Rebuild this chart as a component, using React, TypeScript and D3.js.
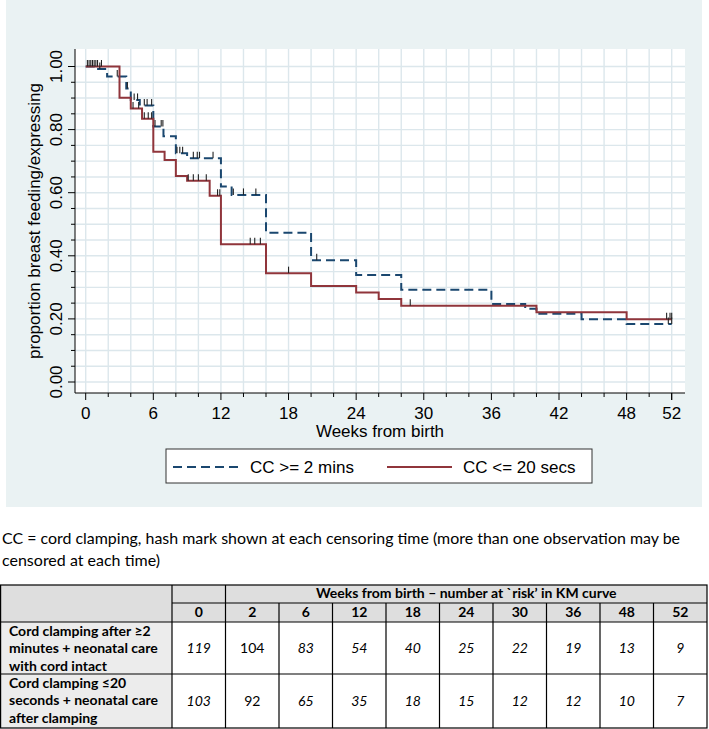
import * as d3 from 'd3'

const W = 709
const H = 729
const panel = { left: 6, right: 702, top: 0, bottom: 507 }
const plot = { left: 75, right: 685, top: 49, bottom: 393 }

const xTicks = [0, 6, 12, 18, 24, 30, 36, 42, 48, 52]
const yTicks = [0, 0.2, 0.4, 0.6, 0.8, 1]

// KM steps: CC >= 2 mins (dashed navy)
const longTimes = [0, 1.1, 1.9, 3.6, 4.0, 4.8, 6, 6.9, 8, 9, 12, 12.95, 16, 20, 24, 28, 36, 39, 40, 44, 48]
const longSurv = [1, 0.992, 0.968, 0.93, 0.894, 0.876, 0.81, 0.779, 0.725, 0.709, 0.62, 0.593, 0.473, 0.386, 0.339, 0.292, 0.247, 0.232, 0.216, 0.199, 0.184]
const longCensored = [0.3, 0.6, 0.9, 1.25, 2.8, 3.7, 4.3, 4.6, 5.2, 5.45, 5.85, 6.15, 6.7, 6.85, 8.1, 8.35, 8.6, 9.55, 9.9, 10.1, 11.3, 13.1, 14.0, 15.1, 20.5, 51.7, 52]

// CC <= 20 secs (solid maroon)
const shortTimes = [0, 3, 4, 5, 6, 7, 8, 9, 11, 12, 16, 20, 24, 26, 28, 40, 48]
const shortSurv = [1, 0.901, 0.867, 0.834, 0.73, 0.704, 0.653, 0.638, 0.59, 0.437, 0.345, 0.304, 0.284, 0.263, 0.242, 0.221, 0.199]
const shortCensored = [0.15, 0.45, 0.75, 1.05, 1.4, 4.2, 4.7, 5.2, 5.55, 5.85, 9.1, 9.55, 10.0, 10.7, 11.7, 11.9, 14.6, 15.0, 15.5, 18.0, 28.8, 51.55, 51.85, 52]

const endTime = 52

// number at risk table
const riskWeeks = [0, 2, 6, 12, 18, 24, 30, 36, 48, 52]
const riskLong = [119, 104, 83, 54, 40, 25, 22, 19, 13, 9]
const riskShort = [103, 92, 65, 35, 18, 15, 12, 12, 10, 7]
const rowLabels = [
  ['Cord clamping after \u22652', 'minutes + neonatal care', 'with cord intact'],
  ['Cord clamping \u226420', 'seconds + neonatal care', 'after clamping'],
]
const tableTitle = 'Weeks from birth \u2013 number  at `risk\u2019 in KM curve'
const captionLines = [
  'CC = cord clamping, hash mark shown at each censoring time (more than one observation may be',
  'censored at each time)',
]

const navy = '#1a476f'
const maroon = '#90353b'
const gridColor = '#dce7ec'
const statFont = '"Liberation Sans", Arial, sans-serif'
const docFont = 'Lato, "Open Sans", sans-serif'

const x = d3.scaleLinear().domain([0, 52]).range([85.7, 671.7])
const y = d3.scaleLinear().domain([0, 1]).range([382, 66.5])

function stepPoints(times: number[], surv: number[]) {
  const pts = times.map((t, i) => [t, surv[i]] as [number, number])
  pts.push([endTime, surv[surv.length - 1]])
  return pts
}

function survAt(times: number[], surv: number[], t: number) {
  const i = d3.bisectRight(times, t) - 1
  return surv[Math.max(0, i)]
}

const line = d3
  .line<[number, number]>()
  .x((d) => x(d[0]))
  .y((d) => y(d[1]))
  .curve(d3.curveStepAfter)

function Censor({ times, surv, cens }: { times: number[]; surv: number[]; cens: number[] }) {
  return (
    <g stroke="#222" strokeWidth={1.1}>
      {cens.map((t, i) => {
        const yy = y(survAt(times, surv, t))
        return <line key={i} x1={x(t)} x2={x(t)} y1={yy} y2={yy - 6.5} />
      })}
    </g>
  )
}

const tableTop = 585
const rowEdges = [585, 603, 622, 674, 728]
const tLeft = 0
const tRight = 707
const labelColRight = 172
const col = d3.scaleBand<number>().domain(riskWeeks).range([labelColRight, tRight])

export default function App() {
  const gridX = d3.range(0, 53, 2)
  const gridY = d3.range(0, 1.0001, 0.05)
  const bodyRows = [riskLong, riskShort]

  return (
    <svg
      width={W}
      height={H}
      style={{ position: 'absolute', left: 0, top: 0, background: '#fff' }}
    >
      {/* chart panel */}
      <rect x={panel.left} y={panel.top} width={panel.right - panel.left} height={panel.bottom - panel.top} fill="#eaf2f3" />
      <rect x={plot.left} y={plot.top} width={plot.right - plot.left} height={plot.bottom - plot.top} fill="#fff" />

      <g stroke={gridColor} strokeWidth={1.4}>
        {gridX.map((t) => (
          <line key={'gx' + t} x1={x(t)} x2={x(t)} y1={plot.top} y2={plot.bottom} />
        ))}
        {gridY.map((v) => (
          <line key={'gy' + v} x1={plot.left} x2={plot.right} y1={y(v)} y2={y(v)} />
        ))}
      </g>

      {/* axes */}
      <g stroke="#000" strokeWidth={1}>
        <line x1={plot.left} x2={plot.left} y1={plot.top} y2={plot.bottom} />
        <line x1={plot.left} x2={plot.right} y1={plot.bottom} y2={plot.bottom} />
        {gridX.map((t) => (
          <line key={'tx' + t} x1={x(t)} x2={x(t)} y1={plot.bottom} y2={plot.bottom + (xTicks.includes(t) ? 7 : 4)} />
        ))}
        <line x1={x(52)} x2={x(52)} y1={plot.bottom} y2={plot.bottom + 7} />
        {gridY.map((v) => (
          <line
            key={'ty' + v}
            x1={plot.left}
            x2={plot.left - (yTicks.some((k) => Math.abs(k - v) < 1e-6) ? 7 : 4)}
            y1={y(v)}
            y2={y(v)}
          />
        ))}
      </g>

      <g fontFamily={statFont} fontSize={17} fill="#000">
        {xTicks.map((t) => (
          <text key={'lx' + t} x={x(t)} y={419} textAnchor="middle">
            {t}
          </text>
        ))}
        {yTicks.map((v) => (
          <text
            key={'ly' + v}
            transform={`translate(62,${y(v)}) rotate(-90)`}
            textAnchor="middle"
            fontFamily={statFont}
          >
            {v.toFixed(2)}
          </text>
        ))}
        <text x={(plot.left + plot.right) / 2} y={437} textAnchor="middle">
          Weeks from birth
        </text>
        <text transform={`translate(40,${(plot.top + plot.bottom) / 2}) rotate(-90)`} textAnchor="middle">
          proportion breast feeding/expressing
        </text>
      </g>

      {/* curves */}
      <path d={line(stepPoints(longTimes, longSurv)) ?? ''} fill="none" stroke={navy} strokeWidth={2} strokeDasharray="9,5" />
      <path d={line(stepPoints(shortTimes, shortSurv)) ?? ''} fill="none" stroke={maroon} strokeWidth={2} />
      <Censor times={longTimes} surv={longSurv} cens={longCensored} />
      <Censor times={shortTimes} surv={shortSurv} cens={shortCensored} />

      {/* legend */}
      <rect x={166} y={449} width={426} height={34} fill="#fff" stroke="#333" strokeWidth={1} />
      <line x1={173} x2={239} y1={467} y2={467} stroke={navy} strokeWidth={2} strokeDasharray="9,5" />
      <line x1={387} x2={452} y1={467} y2={467} stroke={maroon} strokeWidth={2} />
      <g fontFamily={statFont} fontSize={17}>
        <text x={250} y={473}>CC &gt;= 2 mins</text>
        <text x={463} y={473}>CC &lt;= 20 secs</text>
      </g>

      {/* caption */}
      <g fontFamily={docFont} fontSize={16} fill="#000">
        <text x={2} y={544} textLength={678} lengthAdjust="spacingAndGlyphs">
          {captionLines[0]}
        </text>
        <text x={2} y={566} textLength={158} lengthAdjust="spacingAndGlyphs">
          {captionLines[1]}
        </text>
      </g>

      {/* number at risk table */}
      <g>
        <rect x={tLeft} y={rowEdges[0]} width={tRight - tLeft} height={rowEdges[2] - rowEdges[0]} fill="#dedede" />
        <rect x={tLeft} y={rowEdges[2]} width={labelColRight - tLeft} height={rowEdges[4] - rowEdges[2]} fill="#ececec" />
        <g stroke="#000" strokeWidth={1.2}>
          <rect x={tLeft + 0.6} y={tableTop} width={tRight - tLeft - 0.6} height={rowEdges[4] - tableTop} fill="none" />
          <line x1={labelColRight} x2={tRight} y1={rowEdges[1]} y2={rowEdges[1]} />
          <line x1={tLeft} x2={tRight} y1={rowEdges[2]} y2={rowEdges[2]} />
          <line x1={tLeft} x2={tRight} y1={rowEdges[3]} y2={rowEdges[3]} />
          <line x1={labelColRight} x2={labelColRight} y1={rowEdges[0]} y2={rowEdges[4]} />
          {riskWeeks.map((w, i) => {
            const edge = (col(w) ?? 0) + col.bandwidth()
            if (i === riskWeeks.length - 1) return null
            return (
              <line
                key={'cv' + w}
                x1={edge}
                x2={edge}
                y1={i === 0 ? rowEdges[0] : rowEdges[1]}
                y2={rowEdges[4]}
              />
            )
          })}
        </g>
        <g fontFamily={docFont} fontSize={14} fill="#000">
          <text
            x={((col(2) ?? 0) + tRight) / 2}
            y={598}
            textAnchor="middle"
            fontWeight="bold"
          >
            {tableTitle}
          </text>
          {riskWeeks.map((w) => (
            <text key={'hw' + w} x={(col(w) ?? 0) + col.bandwidth() / 2} y={617} textAnchor="middle" fontWeight="bold">
              {w}
            </text>
          ))}
          {bodyRows.map((vals, r) => {
            const top = rowEdges[2 + r]
            const bottom = rowEdges[3 + r]
            const mid = (top + bottom) / 2
            return (
              <g key={'row' + r}>
                {rowLabels[r].map((s, k) => (
                  <text key={k} x={9} y={top + 13.5 + k * 17.5} fontWeight="bold">
                    {s}
                  </text>
                ))}
                {vals.map((v, i) => (
                  <text
                    key={i}
                    x={(col(riskWeeks[i]) ?? 0) + col.bandwidth() / 2}
                    y={mid + 5}
                    textAnchor="middle"
                    fontStyle={riskWeeks[i] === 2 ? 'normal' : 'italic'}
                  >
                    {v}
                  </text>
                ))}
              </g>
            )
          })}
        </g>
      </g>
    </svg>
  )
}
